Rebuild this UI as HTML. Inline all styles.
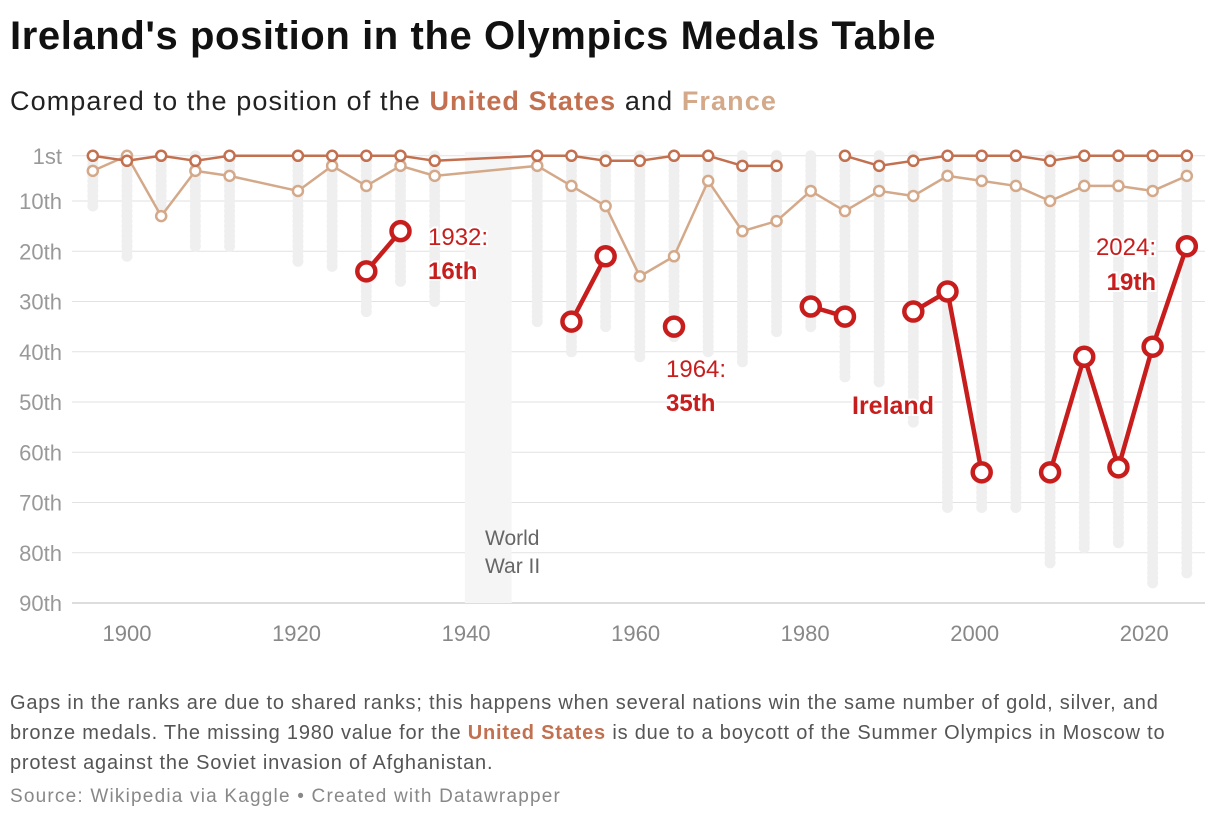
<!DOCTYPE html>
<html><head><meta charset="utf-8"><style>
body{margin:0;background:#fff;width:1220px;height:822px;overflow:hidden;font-family:"Liberation Sans",sans-serif}
.t{position:absolute;left:10px;top:14px;font-size:40px;font-weight:bold;color:#111;letter-spacing:0.6px}
.s{position:absolute;left:10px;top:86px;font-size:27px;color:#222;letter-spacing:1.1px}
.n{position:absolute;left:10px;top:688px;font-size:20px;color:#555;line-height:30px;width:1200px;letter-spacing:0.8px}
.src{position:absolute;left:10px;top:786px;font-size:19px;color:#888;letter-spacing:1.2px}
</style></head><body>
<div class="t">Ireland's position in the Olympics Medals Table</div>
<div class="s">Compared to the position of the <b style="color:#c2704f">United States</b> and <b style="color:#d4a98a">France</b></div>
<svg id="c" width="1220" height="822" style="position:absolute;left:0;top:0"></svg>
<div class="n">Gaps in the ranks are due to shared ranks; this happens when several nations win the same number of gold, silver, and bronze medals. The missing 1980 value for the <b style="color:#c2704f">United States</b> is due to a boycott of the Summer Olympics in Moscow to protest against the Soviet invasion of Afghanistan.</div>
<div class="src">Source: Wikipedia via Kaggle • Created with Datawrapper</div>
<script>
const years=[1896,1900,1904,1908,1912,1920,1924,1928,1932,1936,1948,1952,1956,1960,1964,1968,1972,1976,1980,1984,1988,1992,1996,2000,2004,2008,2012,2016,2020,2024];
const maxRank=[11,21,13,19,19,22,23,32,26,30,34,40,35,41,37,40,42,36,35,45,46,54,71,71,71,82,79,78,86,84];
const usRank=[1,2,1,2,1,1,1,1,1,2,1,1,2,2,1,1,3,3,null,1,3,2,1,1,1,2,1,1,1,1];
const frRank=[4,1,13,4,5,8,3,7,3,5,3,7,11,25,21,6,16,14,8,12,8,9,5,6,7,10,7,7,8,5];
const ieRank=[null,null,null,null,null,null,null,24,16,null,null,34,21,null,35,null,null,null,31,33,null,32,28,64,null,64,41,63,39,19];
const yTicks=[1,10,20,30,40,50,60,70,80,90];
const yTickLabels=["1st","10th","20th","30th","40th","50th","60th","70th","80th","90th"];
const xTicks=[1900,1920,1940,1960,1980,2000,2020];
const X=y=>127+(y-1900)*8.547;
const Y=r=>201+(r-10)*5.025;
const svg=document.getElementById('c');const NS='http://www.w3.org/2000/svg';
function mk(t,a,p){const e=document.createElementNS(NS,t);for(const k in a)e.setAttribute(k,a[k]);(p||svg).appendChild(e);return e;}
yTicks.forEach((t,i)=>{
 const g=mk('line',{x1:72,x2:1205,y1:Y(t),y2:Y(t),stroke:i==yTicks.length-1?'#bbb':'#e2e2e2','stroke-width':1});
 
 
 const l=mk('text',{x:62,y:Y(t)+8,'text-anchor':'end','font-size':22,fill:'#999'});l.textContent=yTickLabels[i];
 
 
});
xTicks.forEach(t=>{
 const l=mk('text',{x:X(t)-(t-1900)*0.07,y:641,'text-anchor':'middle','font-size':22,fill:'#888'});l.textContent=t;
 
 
});
const b=mk('rect',{x:X(1940)-4,y:Y(1)-4,width:X(1945)-X(1940)+4,height:Y(90)-Y(1)+4,fill:'#f5f5f5'});


const w1=mk('text',{x:485,y:545,'font-size':21,fill:'#666'});w1.textContent='World';
const w2=mk('text',{x:485,y:573,'font-size':21,fill:'#666'});w2.textContent='War II';
years.forEach((yr,i)=>{
 for(let r=1;r<=maxRank[i];r++){
  const d=mk('circle',{cx:X(yr),cy:Y(r),r:5.5,fill:'#efefef'});
  
  
 }
});
function series(arr,col,sw,rad,csw,name){
 let seg=[];const segs=[];
 arr.forEach((v,i)=>{if(v==null){if(seg.length)segs.push(seg);seg=[];}else seg.push([X(years[i]),Y(v)]);});
 if(seg.length)segs.push(seg);
 segs.forEach(s=>{if(s.length>1){const p=mk('polyline',{points:s.map(q=>q.join(',')).join(' '),fill:'none',stroke:col,'stroke-width':sw,'stroke-linejoin':'round'});
  
  }});
 arr.forEach((v,i)=>{if(v==null)return;const c=mk('circle',{cx:X(years[i]),cy:Y(v),r:rad,fill:'#fff',stroke:col,'stroke-width':csw});
  
  });
}
series(frRank,'#d4a98a',2.5,5,2.5,'france');
series(usRank,'#c2704f',2.5,5,2.5,'united-states');
series(ieRank,'#c71e1d',4.5,9,4.5,'ireland');
function txt(x,y,s,bold,anchor,size){const t=mk('text',{x:x,y:y,'font-size':size||24,fill:'#c71e1d','font-weight':bold?'bold':'normal','text-anchor':anchor||'start',stroke:'#fff','stroke-width':4,'paint-order':'stroke'});t.textContent=s;
 
 }
txt(428,245,'1932:');txt(428,279,'16th',true);
txt(666,377,'1964:');txt(666,411,'35th',true);
txt(852,414,'Ireland',true,'start',25);
txt(1156,255,'2024:',false,'end');txt(1156,290,'19th',true,'end');
</script>
</body></html>
